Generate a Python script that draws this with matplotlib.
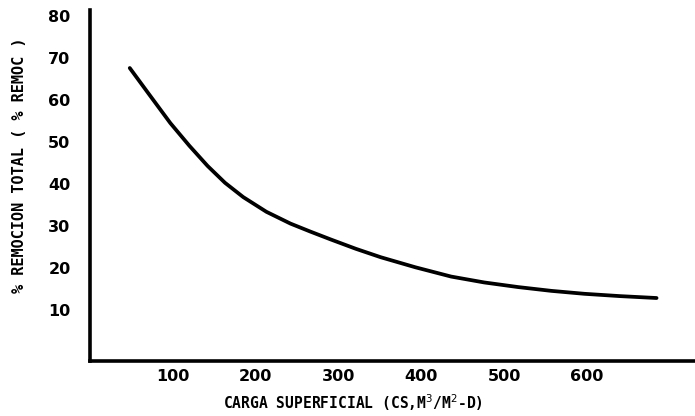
import matplotlib
matplotlib.use('Agg')
import matplotlib.pyplot as plt

# datos
carga = [48, 70, 97, 120, 142, 163, 185, 213, 242, 266, 291, 321, 351, 393, 436, 476, 517, 557, 597, 640, 684]
remocion = [67.6, 61.7, 54.5, 49.1, 44.3, 40.3, 36.9, 33.4, 30.6, 28.7, 26.8, 24.6, 22.6, 20.2, 18.0, 16.6, 15.5, 14.6, 13.9, 13.35, 12.9]
x_ticks = [100, 200, 300, 400, 500, 600]
x_labels = ['100', '200', '300', '400', '500', '600']
y_ticks = [10, 20, 30, 40, 50, 60, 70, 80]

fig = plt.figure(figsize=(6.95, 4.16), dpi=100)
ax = fig.add_axes([0.1295, 0.132, 0.87, 0.844])

ax.plot(carga, remocion, color='black', lw=2.7, solid_capstyle='round', solid_joinstyle='round')

ax.set_xlim(0, 730)
ax.set_ylim(-2.1, 81.4)
ax.spines['top'].set_visible(False)
ax.spines['right'].set_visible(False)
ax.spines['left'].set_linewidth(2.6)
ax.spines['bottom'].set_linewidth(2.6)

tick_font = {'family': ['Liberation Sans Narrow', 'DejaVu Sans'], 'weight': 'bold', 'size': 11.5}
ax.set_xticks(x_ticks)
ax.set_xticklabels(x_labels, fontdict=tick_font)
ax.set_yticks(y_ticks)
ax.set_yticklabels([str(v) for v in y_ticks], fontdict=tick_font)
ax.tick_params(axis='both', length=0)
ax.tick_params(axis='x', pad=6)
ax.tick_params(axis='y', pad=14)

fig.text(353 / 695, 1 - 403 / 416, 'CARGA SUPERFICIAL (CS,M$^3$/M$^2$-D)',
         ha='center', va='center', family='DejaVu Sans Mono', weight='bold', size=10.5)
fig.text(20 / 695, 1 - 165 / 416, '% REMOCION TOTAL ( % REMOC )', rotation=90,
         ha='center', va='center', family='DejaVu Sans Mono', weight='bold', size=11)

fig.savefig('out.png', dpi=100)
